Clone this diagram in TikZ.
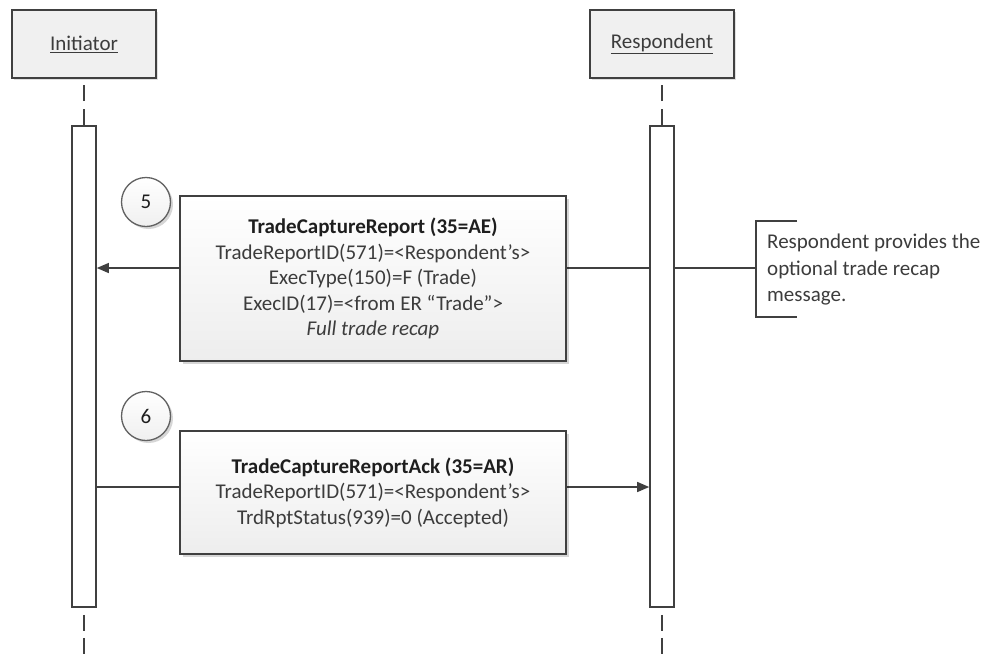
\documentclass[tikz,border=0pt]{standalone}
\usepackage{fontspec}
\setmainfont{Carlito}
\usetikzlibrary{arrows.meta,shadows}

\definecolor{linegray}{HTML}{404040}
\definecolor{hdrfill}{HTML}{F0F0F0}
\definecolor{titletext}{HTML}{1E1E1E}
\definecolor{bodytext}{HTML}{3C3C3C}

\tikzset{
  basefont/.style={font=\fontsize{21}{25.5}\selectfont},
  softshadow/.style={drop shadow={shadow xshift=2.5pt, shadow yshift=-2.5pt, fill=black, opacity=0.16}},
  hdrbox/.style={basefont, draw=linegray, line width=1.6pt, fill=hdrfill,
    minimum width=144pt, minimum height=68pt, inner sep=0pt, text=bodytext,
    drop shadow={shadow xshift=1.5pt, shadow yshift=-1.5pt, fill=black, opacity=0.12}},
  actbar/.style={draw=linegray, line width=1.6pt, fill=white,
    minimum width=24pt, minimum height=481pt, inner sep=0pt},
  lifeline/.style={draw=linegray, line width=1.4pt},
  msgbox/.style={basefont, draw=linegray, line width=1.3pt, top color=white, bottom color=black!7,
    minimum width=386pt, align=center, inner sep=0pt, text=bodytext, softshadow},
  stepnum/.style={basefont, circle, draw=black!62, line width=1.3pt, top color=white, bottom color=black!6,
    minimum size=49pt, inner sep=0pt, text=titletext, softshadow},
  msgline/.style={draw=linegray, line width=1.3pt},
  msgarrow/.style={msgline, -{Triangle[length=12pt,width=10pt]}},
  notetext/.style={basefont, font=\fontsize{21}{26.5}\selectfont, align=left, inner sep=0pt, text=bodytext},
}

\begin{document}
\begin{tikzpicture}[x=1pt, y=-1pt]
  \useasboundingbox (0,0) rectangle (987,654);

  % participants
  \node[hdrbox] (hdrI) at (84,44) {\underline{Initiator}};
  \node[hdrbox] (hdrR) at (662,44) {\underline{Respondent}};

  % activation bars
  \node[actbar] (barI) at (84,366.5) {};
  \node[actbar] (barR) at (662,366.5) {};

  % lifelines above and below the bars
  \draw[lifeline, dash pattern=on 16pt off 8pt] (barI.north) -- (hdrI.south);
  \draw[lifeline, dash pattern=on 16pt off 8pt] (barR.north) -- (hdrR.south);
  \coordinate (endI) at (84,654);
  \coordinate (endR) at (662,654);
  \draw[lifeline, dash pattern=on 16pt off 7pt, dash phase=16pt] (barI.south) -- (endI);
  \draw[lifeline, dash pattern=on 16pt off 7pt, dash phase=16pt] (barR.south) -- (endR);

  % message rows
  \coordinate (row5) at (0,268);
  \coordinate (row6) at (0,487);
  \coordinate (brk) at (756,268);

  \draw[msgarrow] (barR.west |- row5) -- (barI.east |- row5);
  \draw[msgarrow] (barI.east |- row6) -- (barR.west |- row6);
  \draw[msgline] (barR.east |- row5) -- (brk);

  % annotation bracket
  \coordinate (brkTop) at (797,221);
  \coordinate (brkBot) at (797,317);
  \draw[msgline] (brkTop) -| (brk) |- (brkBot);
  \node[notetext, anchor=west] (note) at (767,270)
    {Respondent provides the\\optional trade recap\\message.};

  % message 5
  \node[msgbox, minimum height=165pt] (msg5) at (373,278.5)
    {\textcolor{titletext}{\bfseries TradeCaptureReport (35=AE)}\\
     TradeReportID(571)=<Respondent’s>\\
     ExecType(150)=F (Trade)\\
     ExecID(17)=<from ER “Trade”>\\
     \itshape Full trade recap};
  \node[stepnum] (c5) at (146,202) {5};

  % message 6
  \node[msgbox, minimum height=123pt] (msg6) at (373,492.5)
    {\textcolor{titletext}{\bfseries TradeCaptureReportAck (35=AR)}\\
     TradeReportID(571)=<Respondent’s>\\
     TrdRptStatus(939)=0 (Accepted)};
  \node[stepnum] (c6) at (146,416) {6};
\end{tikzpicture}
\end{document}
